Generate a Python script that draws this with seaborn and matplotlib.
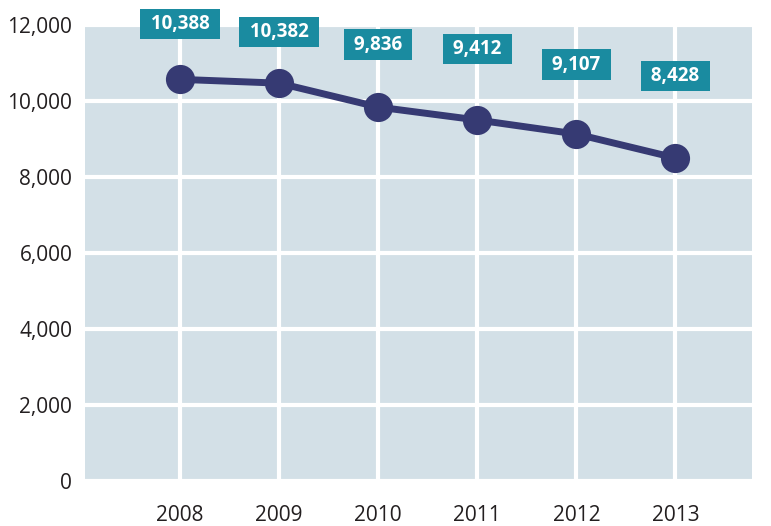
import pandas as pd
import seaborn as sns
import matplotlib.pyplot as plt

years = [2008, 2009, 2010, 2011, 2012, 2013]
# plotted positions as drawn in the picture
values = [10580, 10480, 9850, 9510, 9140, 8510]
# printed labels
labels = ['10,388', '10,382', '9,836', '9,412', '9,107', '8,428']
y_ticks = [0, 2000, 4000, 6000, 8000, 10000, 12000]

df = pd.DataFrame({'year': years, 'value': values})

sns.set_style('white')
plt.rcParams['font.family'] = ['Open Sans', 'DejaVu Sans']

fig = plt.figure(figsize=(7.71, 5.26), dpi=100)
ax = fig.add_axes([0.110, 0.0856, 0.865, 0.866])
ax.set_facecolor('#d3e0e7')

sns.lineplot(data=df, x='year', y='value', ax=ax, color='#363a73',
             linewidth=5, marker='o', markersize=21, markeredgewidth=0,
             zorder=3)

# label lift above each point, in points
lifts = [40, 37, 45, 51, 50, 59]
for x, y, t, d in zip(years, values, labels, lifts):
    ax.annotate(f' {t} ', (x, y), xytext=(0, d), textcoords='offset points',
                ha='center', va='center', color='white', fontsize=13.5,
                fontweight='bold', zorder=4,
                bbox=dict(boxstyle='square,pad=0.28', fc='#1a8ba0',
                          ec='none'))

ax.set_xlim(2007.04, 2013.77)
ax.set_ylim(0, 12000)
ax.set_xticks(years)
ax.set_yticks(y_ticks)
ax.set_yticklabels([f'{v:,}' for v in y_ticks])
ax.grid(True, color='white', linewidth=3)
ax.set_axisbelow(True)
for s in ax.spines.values():
    s.set_visible(False)
ax.tick_params(axis='x', length=0, pad=17, labelsize=15, colors='#231f20')
ax.tick_params(axis='y', length=0, pad=9, labelsize=15, colors='#231f20')
ax.set_xlabel('')
ax.set_ylabel('')

fig.savefig('out.png', dpi=100)
